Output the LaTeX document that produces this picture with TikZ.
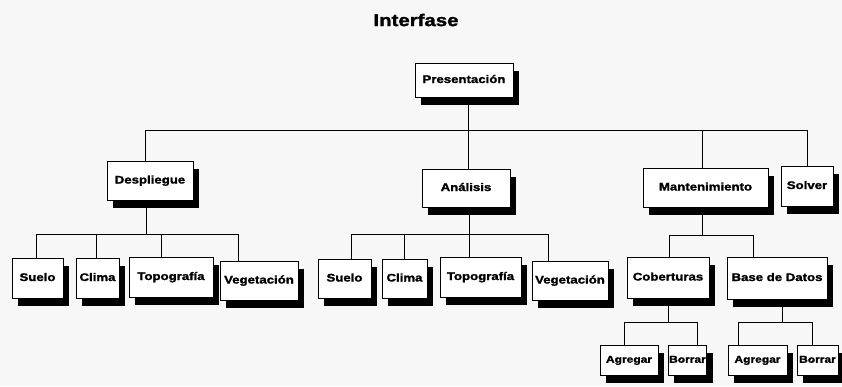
\documentclass[tikz,border=0pt]{standalone}
\usepackage{fontspec}
\setmainfont{Liberation Sans}[FakeStretch=1.2,BoldFeatures={FakeBold=1.6}]
\usetikzlibrary{shadows}
\begin{document}
\begin{tikzpicture}[x=1pt,y=-1pt,
  box/.style={draw=black,line width=0.8pt,fill=white,inner sep=1pt,
    text height=8.5pt,text depth=2.5pt,
    font=\fontsize{11}{13}\selectfont\bfseries,
    drop shadow={shadow xshift=6pt,shadow yshift=-8pt,fill=black,opacity=1}},
  leaf/.style={box,text height=7.5pt,text depth=2pt,font=\fontsize{10}{12}\selectfont\bfseries},
  link/.style={draw=black,line width=0.8pt}]
\useasboundingbox[fill=white!97!black] (0,0) rectangle (842,386);

% title
\node[font=\fontsize{17}{20}\selectfont\bfseries] (title) at (416,20) {Interfase};

% level 0 and 1
\node[box,minimum width=98pt,minimum height=34pt] (pres) at (464,80) {Presentación};
\node[box,minimum width=86pt,minimum height=39pt] (desp) at (150,180.5) {Despliegue};
\node[box,minimum width=88pt,minimum height=38pt] (ana) at (466,188) {Análisis};
\node[box,minimum width=125pt,minimum height=39pt] (mant) at (705.5,187.5) {Mantenimiento};
\node[box,minimum width=52pt,minimum height=40pt] (solv) at (807,186) {Solver};

% children of Despliegue
\node[box,minimum width=51pt,minimum height=40pt] (suelo1) at (37.5,278) {Suelo};
\node[box,minimum width=43pt,minimum height=40pt] (clima1) at (97.5,278) {Clima};
\node[box,minimum width=84pt,minimum height=40pt] (topo1) at (171,277) {Topografía};
\node[box,minimum width=78pt,minimum height=39pt] (veg1) at (259,280.5) {Vegetación};

% children of Análisis
\node[box,minimum width=53pt,minimum height=39pt] (suelo2) at (344.5,278.5) {Suelo};
\node[box,minimum width=45pt,minimum height=39pt] (clima2) at (404.5,278.5) {Clima};
\node[box,minimum width=81pt,minimum height=40pt] (topo2) at (480.5,277) {Topografía};
\node[box,minimum width=76pt,minimum height=39pt] (veg2) at (570,280.5) {Vegetación};

% children of Mantenimiento
\node[box,minimum width=82pt,minimum height=41pt] (cob) at (668,277.5) {Coberturas};
\node[box,minimum width=100pt,minimum height=42pt] (bd) at (777,278) {Base de Datos};

% leaves
\node[leaf,minimum width=58pt,minimum height=30pt] (agr1) at (629,360) {Agregar};
\node[leaf,minimum width=35pt,minimum height=30pt] (bor1) at (687.5,360) {Borrar};
\node[leaf,minimum width=59pt,minimum height=30pt] (agr2) at (757.5,360) {Agregar};
\node[leaf,minimum width=41pt,minimum height=30pt] (bor2) at (817.5,360) {Borrar};

% junction points
\coordinate (t0) at (468,130);
\coordinate (t1) at (145,130);
\coordinate (t2) at (468,130);
\coordinate (t3) at (702,130);
\coordinate (t4) at (807,130);

\coordinate (d0) at (146,234);
\coordinate (d1) at (36,234);
\coordinate (d2) at (96,234);
\coordinate (d3) at (161,234);
\coordinate (d4) at (238,234);

\coordinate (a0) at (469,234);
\coordinate (a1) at (351,234);
\coordinate (a2) at (404,234);
\coordinate (a3) at (469,234);
\coordinate (a4) at (548,234);

\coordinate (m0) at (702,235);
\coordinate (m1) at (669,235);
\coordinate (m2) at (753,235);

\coordinate (c0) at (668,322);
\coordinate (c1) at (624,322);
\coordinate (c2) at (697,322);

\coordinate (b0) at (782,322);
\coordinate (b1) at (738,322);
\coordinate (b2) at (812,322);

% connectors
\draw[link] (t0 |- pres.south) -- (t0);
\draw[link] (t1) -- (t4);
\draw[link] (t1) -- (t1 |- desp.north);
\draw[link] (t2) -- (t2 |- ana.north);
\draw[link] (t3) -- (t3 |- mant.north);
\draw[link] (t4) -- (t4 |- solv.north);

\draw[link] (d0 |- desp.south) -- (d0);
\draw[link] (d1) -- (d4);
\draw[link] (d1) -- (d1 |- suelo1.north);
\draw[link] (d2) -- (d2 |- clima1.north);
\draw[link] (d3) -- (d3 |- topo1.north);
\draw[link] (d4) -- (d4 |- veg1.north);

\draw[link] (a0 |- ana.south) -- (a0);
\draw[link] (a1) -- (a4);
\draw[link] (a1) -- (a1 |- suelo2.north);
\draw[link] (a2) -- (a2 |- clima2.north);
\draw[link] (a3) -- (a3 |- topo2.north);
\draw[link] (a4) -- (a4 |- veg2.north);

\draw[link] (m0 |- mant.south) -- (m0);
\draw[link] (m1) -- (m2);
\draw[link] (m1) -- (m1 |- cob.north);
\draw[link] (m2) -- (m2 |- bd.north);

\draw[link] (c0 |- cob.south) -- (c0);
\draw[link] (c1) -- (c2);
\draw[link] (c1) -- (c1 |- agr1.north);
\draw[link] (c2) -- (c2 |- bor1.north);

\draw[link] (b0 |- bd.south) -- (b0);
\draw[link] (b1) -- (b2);
\draw[link] (b1) -- (b1 |- agr2.north);
\draw[link] (b2) -- (b2 |- bor2.north);
\end{tikzpicture}
\end{document}
